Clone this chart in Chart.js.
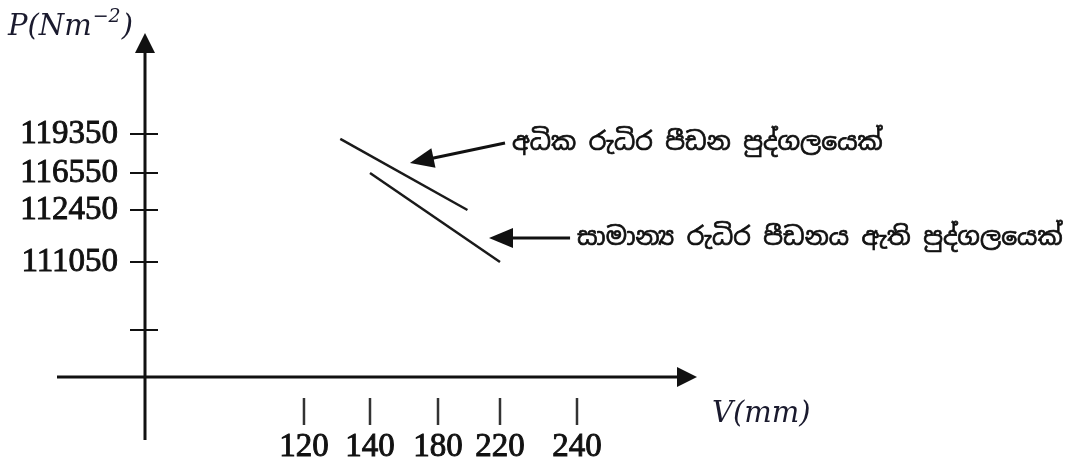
<!DOCTYPE html>
<html>
<head>
<meta charset="utf-8">
<script src="https://cdn.jsdelivr.net/npm/chart.js@4.4.1/dist/chart.umd.min.js"></script>
<style>
body { margin: 0; background: #fff; }
#wrap { width: 1088px; height: 461px; }
</style>
</head>
<body>
<div id="wrap"><canvas id="pvChart"></canvas></div>
<script>
// tick values (axes are not drawn to scale)
var vTicks = [120, 140, 180, 220, 240];
var pTicks = [null, 111050, 112450, 116550, 119350];
var pLabels = ['', '111050', '112450', '116550', '119350'];

// high blood pressure person
var highV = [131, 199];
var highP = [119000, 112450];
// normal blood pressure person
var normalV = [140, 220];
var normalP = [116550, 111050];

var highLabel = 'අධික රුධිර පීඩන පුද්ගලයෙක්';
var normalLabel = 'සාමාන්‍ය රුධිර පීඩනය ඇති පුද්ගලයෙක්';

function toPoints(xs, ys) {
    return xs.map(function (x, i) { return { x: x, y: ys[i] }; });
}

// piecewise linear scale: each tick sits at a fixed fraction of the axis
class SketchScale extends Chart.LinearScale {
    static id = 'sketch';
    static defaults = Chart.LinearScale.defaults;
    buildTicks() {
        return this.options.marks.map(function (v, i) { return { value: v == null ? 0 : v }; });
    }
    getPixelForTick(index) {
        return this.getPixelForDecimal(this.options.stops[index]);
    }
    getPixelForValue(value) {
        var marks = this.options.marks, stops = this.options.stops;
        var vals = [], fr = [];
        for (var i = 0; i < marks.length; i++) {
            if (marks[i] != null) { vals.push(marks[i]); fr.push(stops[i]); }
        }
        var k = 0;
        while (k < vals.length - 2 && value > vals[k + 1]) k++;
        var f = fr[k] + (value - vals[k]) * (fr[k + 1] - fr[k]) / (vals[k + 1] - vals[k]);
        return this.getPixelForDecimal(f);
    }
}
Chart.register(SketchScale);

function arrow(ctx, x1, y1, x2, y2, len, half) {
    var ang = Math.atan2(y2 - y1, x2 - x1);
    var bx = x2 - len * Math.cos(ang), by = y2 - len * Math.sin(ang);
    ctx.beginPath(); ctx.moveTo(x1, y1); ctx.lineTo(bx + Math.cos(ang), by + Math.sin(ang)); ctx.stroke();
    ctx.beginPath();
    ctx.moveTo(x2, y2);
    ctx.lineTo(bx + half * Math.sin(ang), by - half * Math.cos(ang));
    ctx.lineTo(bx - half * Math.sin(ang), by + half * Math.cos(ang));
    ctx.closePath(); ctx.fill();
}

var sketchAxes = {
    id: 'sketchAxes',
    afterDraw: function (chart, args, opts) {
        var ctx = chart.ctx, a = chart.chartArea, xs = chart.scales.x, ys = chart.scales.y;
        ctx.save();
        ctx.strokeStyle = '#111';
        ctx.fillStyle = '#111';
        ctx.lineWidth = 3;
        // axes with arrow heads
        arrow(ctx, a.left, a.bottom + 63, a.left, a.top, 20, 10);
        arrow(ctx, a.left - 88, a.bottom, a.right, a.bottom, 20, 10);

        // tick marks
        ctx.lineWidth = 2;
        ys.ticks.forEach(function (t, i) {
            var y = ys.getPixelForTick(i);
            ctx.beginPath(); ctx.moveTo(a.left - 15, y); ctx.lineTo(a.left + 13, y); ctx.stroke();
        });
        ctx.strokeStyle = '#333';
        ctx.lineWidth = 2.5;
        xs.ticks.forEach(function (t, i) {
            var x = xs.getPixelForTick(i);
            ctx.beginPath(); ctx.moveTo(x, a.bottom + 21); ctx.lineTo(x, a.bottom + 48); ctx.stroke();
        });

        // axis titles
        ctx.fillStyle = '#1a1a2e';
        ctx.textBaseline = 'alphabetic';
        ctx.textAlign = 'left';
        ctx.font = 'italic 29px "DejaVu Serif"';
        var x0 = 8, base = 35;
        ctx.fillText('P(Nm', x0, base);
        x0 += ctx.measureText('P(Nm').width;
        ctx.font = 'italic 19px "DejaVu Serif"';
        ctx.fillText('\u22122', x0 + 1, base - 13);
        x0 += ctx.measureText('\u22122').width + 2;
        ctx.font = 'italic 29px "DejaVu Serif"';
        ctx.fillText(')', x0, base);
        ctx.fillText('V(mm)', a.right + 15, a.bottom + 45);

        // labelled arrows
        ctx.strokeStyle = '#111';
        ctx.fillStyle = '#111';
        ctx.lineWidth = 3;
        opts.notes.forEach(function (n) {
            var fx = xs.getPixelForValue(n.from.x), fy = ys.getPixelForValue(n.from.y);
            var tx = xs.getPixelForValue(n.to.x), ty = ys.getPixelForValue(n.to.y);
            arrow(ctx, fx, fy, tx, ty, 24, 10);
            ctx.font = '25px "Noto Sans Sinhala", "Iskoola Pota", sans-serif';
            ctx.textBaseline = 'middle';
            ctx.lineWidth = 0.7;
            ctx.fillText(n.text, fx + 7, fy);
            ctx.strokeText(n.text, fx + 7, fy);
            ctx.lineWidth = 3;
        });
        ctx.restore();
    }
};

var ctx = document.getElementById('pvChart');
var tickFont = { family: '"Liberation Serif"', size: 33 };

new Chart(ctx, {
    type: 'line',
    data: {
        datasets: [{
            label: highLabel,
            data: toPoints(highV, highP),
            borderColor: '#1a1a1a',
            borderWidth: 2.5,
            pointRadius: 0
        }, {
            label: normalLabel,
            data: toPoints(normalV, normalP),
            borderColor: '#1a1a1a',
            borderWidth: 2.5,
            pointRadius: 0
        }]
    },
    options: {
        responsive: true,
        maintainAspectRatio: false,
        animation: false,
        layout: { padding: { left: 0, top: 33, right: 391, bottom: 0 } },
        plugins: {
            legend: { display: false },
            tooltip: { enabled: false },
            sketchAxes: {
                notes: [
                    { from: { x: 221.3, y: 118704 }, to: { x: 163.5, y: 117268 }, text: highLabel },
                    { from: { x: 238.2, y: 111696 }, to: { x: 212.9, y: 111696 }, text: normalLabel }
                ]
            }
        },
        scales: {
            x: {
                type: 'sketch',
                marks: vTicks,
                stops: [0.288, 0.4076, 0.5308, 0.6431, 0.7826],
                grid: { display: false, drawTicks: false },
                border: { display: false },
                ticks: {
                    autoSkip: false,
                    maxRotation: 0,
                    padding: 51,
                    color: '#111',
                    textStrokeColor: '#111',
                    textStrokeWidth: 0.9,
                    font: tickFont,
                    callback: function (v, i) { return String(vTicks[i]); }
                },
                afterFit: function (s) { s.height = 84; s.paddingLeft = 0; s.paddingRight = 0; }
            },
            y: {
                type: 'sketch',
                marks: pTicks,
                stops: [0.1366, 0.3343, 0.4855, 0.593, 0.7064],
                grid: { display: false, drawTicks: false },
                border: { display: false },
                ticks: {
                    autoSkip: false,
                    padding: 27,
                    color: '#111',
                    textStrokeColor: '#111',
                    textStrokeWidth: 0.9,
                    font: tickFont,
                    callback: function (v, i) { return pLabels[i]; }
                },
                afterFit: function (s) { s.width = 145; s.paddingTop = 0; s.paddingBottom = 0; }
            }
        }
    },
    plugins: [sketchAxes]
});
</script>
</body>
</html>
